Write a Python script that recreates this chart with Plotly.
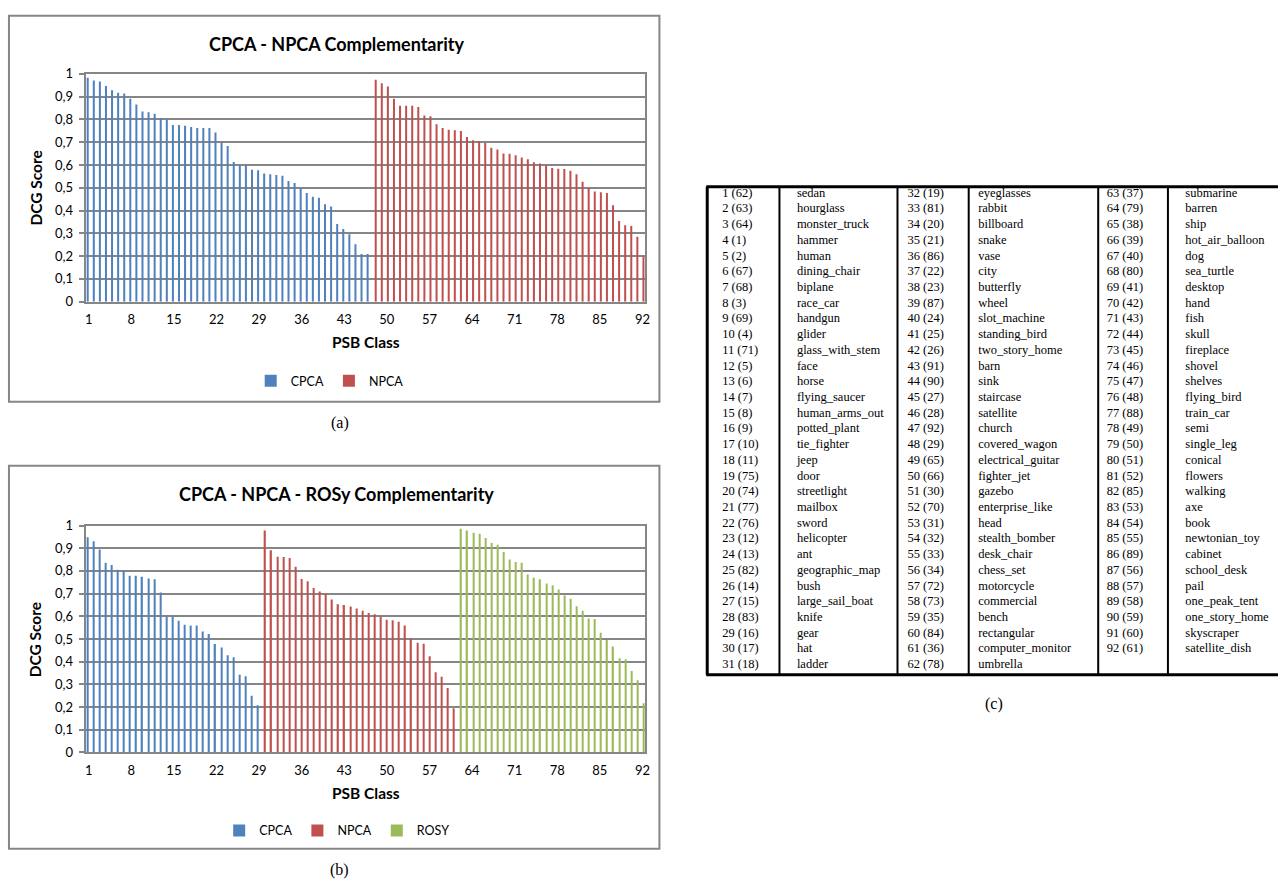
import plotly.graph_objects as go

W, H = 1282, 893

# ---- panel (a): DCG score per PSB class, sorted within each descriptor ----
cpca_a = [0.983, 0.971, 0.966, 0.947, 0.928, 0.917, 0.913, 0.891, 0.865, 0.835,
          0.831, 0.825, 0.805, 0.799, 0.775, 0.775, 0.772, 0.766, 0.762, 0.762,
          0.762, 0.742, 0.699, 0.683, 0.613, 0.599, 0.599, 0.579, 0.577, 0.562,
          0.559, 0.556, 0.552, 0.530, 0.521, 0.499, 0.477, 0.460, 0.456, 0.427,
          0.418, 0.341, 0.319, 0.296, 0.252, 0.209, 0.209]
npca_a = [0.974, 0.958, 0.944, 0.890, 0.860, 0.860, 0.860, 0.854, 0.817, 0.814,
          0.779, 0.762, 0.754, 0.752, 0.749, 0.723, 0.708, 0.705, 0.696, 0.675,
          0.668, 0.650, 0.649, 0.642, 0.633, 0.625, 0.612, 0.606, 0.599, 0.587,
          0.583, 0.582, 0.575, 0.559, 0.526, 0.499, 0.483, 0.480, 0.477, 0.423,
          0.354, 0.335, 0.332, 0.285, 0.198]

# ---- panel (b) ----
cpca_b = [0.949, 0.931, 0.894, 0.836, 0.826, 0.805, 0.802, 0.779, 0.779, 0.774,
          0.767, 0.763, 0.705, 0.598, 0.598, 0.580, 0.563, 0.560, 0.559, 0.533,
          0.522, 0.478, 0.462, 0.428, 0.420, 0.342, 0.336, 0.250, 0.208]
npca_b = [0.978, 0.891, 0.863, 0.861, 0.857, 0.818, 0.764, 0.754, 0.725, 0.709,
          0.699, 0.674, 0.653, 0.650, 0.643, 0.634, 0.625, 0.615, 0.609, 0.599,
          0.585, 0.583, 0.576, 0.559, 0.501, 0.483, 0.479, 0.424, 0.353, 0.334,
          0.284, 0.195]
rosy_b = [0.986, 0.978, 0.968, 0.964, 0.945, 0.923, 0.915, 0.883, 0.850, 0.839,
          0.836, 0.784, 0.770, 0.763, 0.745, 0.737, 0.718, 0.692, 0.677, 0.644,
          0.624, 0.590, 0.588, 0.528, 0.496, 0.467, 0.415, 0.411, 0.359, 0.318,
          0.217]

x_ticks = [1, 8, 15, 22, 29, 36, 43, 50, 57, 64, 71, 78, 85, 92]
y_ticks = [0, 0.1, 0.2, 0.3, 0.4, 0.5, 0.6, 0.7, 0.8, 0.9, 1]
y_tick_labels = ["0", "0,1", "0,2", "0,3", "0,4", "0,5", "0,6", "0,7", "0,8", "0,9", "1"]

# ---- panel (c): class order and original PSB ids ----
psb_ids = [62, 63, 64, 1, 2, 67, 68, 3, 69, 4, 71, 5, 6, 7, 8, 9, 10, 11, 75, 74,
           77, 76, 12, 13, 82, 14, 15, 83, 16, 17, 18,
           19, 81, 20, 21, 86, 22, 23, 87, 24, 25, 26, 91, 90, 27, 28, 92, 29, 65,
           66, 30, 70, 31, 32, 33, 34, 72, 73, 35, 84, 36, 78,
           37, 79, 38, 39, 40, 80, 41, 42, 43, 44, 45, 46, 47, 48, 88, 49, 50, 51,
           52, 85, 53, 54, 55, 89, 56, 57, 58, 59, 60, 61]
class_names = [
    "sedan", "hourglass", "monster_truck", "hammer", "human", "dining_chair",
    "biplane", "race_car", "handgun", "glider", "glass_with_stem", "face", "horse",
    "flying_saucer", "human_arms_out", "potted_plant", "tie_fighter", "jeep", "door",
    "streetlight", "mailbox", "sword", "helicopter", "ant", "geographic_map", "bush",
    "large_sail_boat", "knife", "gear", "hat", "ladder",
    "eyeglasses", "rabbit", "billboard", "snake", "vase", "city", "butterfly", "wheel",
    "slot_machine", "standing_bird", "two_story_home", "barn", "sink", "staircase",
    "satellite", "church", "covered_wagon", "electrical_guitar", "fighter_jet",
    "gazebo", "enterprise_like", "head", "stealth_bomber", "desk_chair", "chess_set",
    "motorcycle", "commercial", "bench", "rectangular", "computer_monitor", "umbrella",
    "submarine", "barren", "ship", "hot_air_balloon", "dog", "sea_turtle", "desktop",
    "hand", "fish", "skull", "fireplace", "shovel", "shelves", "flying_bird",
    "train_car", "semi", "single_leg", "conical", "flowers", "walking", "axe", "book",
    "newtonian_toy", "cabinet", "school_desk", "pail", "one_peak_tent",
    "one_story_home", "skyscraper", "satellite_dish"]

BLUE, RED, GREEN = "#4F81BD", "#C0504D", "#9BBB59"
GRID = "#868686"
SANS = "Lato"
SERIF = "Liberation Serif"


def px(x):
    return x / W


def py(y):
    return 1 - y / H


def classes(start, n):
    return list(range(start, start + n))


fig = go.Figure()

# panel (a) bars: two-series cluster, each series takes one slot
slot_a = 0.33
fig.add_trace(go.Bar(x=classes(1, len(cpca_a)), y=cpca_a, name="CPCA",
                     marker=dict(color=BLUE, line=dict(width=0)),
                     width=slot_a, offset=-slot_a, xaxis="x", yaxis="y",
                     legend="legend", hoverinfo="skip"))
fig.add_trace(go.Bar(x=classes(len(cpca_a) + 1, len(npca_a)), y=npca_a, name="NPCA",
                     marker=dict(color=RED, line=dict(width=0)),
                     width=slot_a, offset=0, xaxis="x", yaxis="y",
                     legend="legend", hoverinfo="skip"))

# panel (b) bars: three-series cluster
slot_b = 0.205
n1, n2 = len(cpca_b), len(npca_b)
fig.add_trace(go.Bar(x=classes(1, n1), y=cpca_b, name="CPCA",
                     marker=dict(color=BLUE, line=dict(width=0)),
                     width=slot_b, offset=-1.5 * slot_b, xaxis="x2", yaxis="y2",
                     legend="legend2", hoverinfo="skip"))
fig.add_trace(go.Bar(x=classes(n1 + 1, n2), y=npca_b, name="NPCA",
                     marker=dict(color=RED, line=dict(width=0)),
                     width=slot_b, offset=-0.5 * slot_b, xaxis="x2", yaxis="y2",
                     legend="legend2", hoverinfo="skip"))
fig.add_trace(go.Bar(x=classes(n1 + n2 + 1, len(rosy_b)), y=rosy_b, name="ROSY",
                     marker=dict(color=GREEN, line=dict(width=0)),
                     width=slot_b, offset=0.5 * slot_b, xaxis="x2", yaxis="y2",
                     legend="legend2", hoverinfo="skip"))

# panel (c): class table as text columns on a row-indexed axis
rows_per_col = 31
idx_col_x = [724, 910, 1110]
name_col_x = [799, 981, 1189]
for g in range(3):
    ids = list(range(g * rows_per_col, min((g + 1) * rows_per_col, len(class_names))))
    rows = [i - g * rows_per_col + 1 for i in ids]
    fig.add_trace(go.Scatter(
        x=[idx_col_x[g]] * len(ids), y=rows, mode="text",
        text=[f"{i + 1} ({psb_ids[i]})" for i in ids], textposition="middle right",
        textfont=dict(family=SERIF, size=12.5, color="black"),
        xaxis="x3", yaxis="y3", showlegend=False, hoverinfo="skip"))
    fig.add_trace(go.Scatter(
        x=[name_col_x[g]] * len(ids), y=rows, mode="text",
        text=[class_names[i] for i in ids], textposition="middle right",
        textfont=dict(family=SERIF, size=12.5, color="black"),
        xaxis="x3", yaxis="y3", showlegend=False, hoverinfo="skip"))

tick_font = dict(family=SANS, size=13, color="black")


def cat_axis(domain, anchor):
    return dict(domain=domain, anchor=anchor, range=[0.5, 92.5],
                tickmode="array", tickvals=x_ticks, ticktext=[str(t) for t in x_ticks],
                tickfont=tick_font, showgrid=False, zeroline=False,
                showline=True, linecolor=GRID, linewidth=2, mirror=True,
                ticks="", ticklabelstandoff=5, fixedrange=True)


def val_axis(domain, anchor):
    return dict(domain=domain, anchor=anchor, range=[0, 1],
                tickmode="array", tickvals=y_ticks, ticktext=y_tick_labels,
                tickfont=tick_font, showgrid=True, gridcolor=GRID, gridwidth=2,
                zeroline=False, showline=True, linecolor=GRID, linewidth=2,
                mirror=True, ticks="outside", ticklen=5, tickcolor=GRID,
                tickwidth=2, ticklabelstandoff=3, fixedrange=True)


table_left, table_top, row_h = 700, 181, 16

shapes = []
# chart frames
for top, bottom in [(8, 401), (466, 856)]:
    shapes.append(dict(type="rect", xref="paper", yref="paper",
                       x0=px(8), x1=px(661), y0=py(bottom), y1=py(top),
                       line=dict(color=GRID, width=2), fillcolor="rgba(0,0,0,0)"))
# table rules
t0, t1 = 182, 679
for x, w in [(709, 3), (781.5, 2), (900, 2), (971.5, 2), (1101.5, 2), (1171.5, 2)]:
    shapes.append(dict(type="line", xref="paper", yref="paper",
                       x0=px(x), x1=px(x), y0=py(t0), y1=py(t1),
                       line=dict(color="black", width=w)))
for y in (t0, t1):
    shapes.append(dict(type="line", xref="paper", yref="paper",
                       x0=px(708), x1=1, y0=py(y), y1=py(y),
                       line=dict(color="black", width=3)))


def note(text, x, y, font, angle=0):
    return dict(text=text, x=px(x), y=py(y), xref="paper", yref="paper",
                xanchor="center", yanchor="middle", showarrow=False,
                font=font, textangle=angle)


title_font = dict(family=SANS, size=18, color="black", weight="bold")
axis_font = dict(family=SANS, size=15.5, color="black", weight="bold")
cap_font = dict(family=SERIF, size=16, color="black")

annotations = [
    note("CPCA - NPCA Complementarity", 337, 37, title_font),
    note("DCG Score", 35, 183, axis_font, -90),
    note("PSB Class", 366, 340, axis_font),
    note("(a)", 340, 423, cap_font),
    note("CPCA - NPCA - ROSy Complementarity", 337, 495, title_font),
    note("DCG Score", 35, 643, axis_font, -90),
    note("PSB Class", 366, 799, axis_font),
    note("(b)", 340, 878, cap_font),
    note("(c)", 997, 709, cap_font),
]

legend_common = dict(orientation="h", xanchor="center", yanchor="middle",
                     font=dict(family=SANS, size=12.5, color="black"),
                     bgcolor="rgba(0,0,0,0)", itemwidth=30, traceorder="normal",
                     itemclick=False, itemdoubleclick=False)

fig.update_layout(
    width=W, height=H, margin=dict(l=0, r=0, t=0, b=0),
    paper_bgcolor="white", plot_bgcolor="rgba(0,0,0,0)",
    barmode="overlay", showlegend=True,
    xaxis=cat_axis([px(85), px(647)], "y"),
    yaxis=val_axis([py(299), py(67)], "x"),
    xaxis2=cat_axis([px(85), px(647)], "y2"),
    yaxis2=val_axis([py(758), py(527)], "x2"),
    xaxis3=dict(domain=[px(table_left), 1], anchor="y3", range=[table_left, W],
                visible=False, fixedrange=True),
    yaxis3=dict(domain=[py(table_top + rows_per_col * row_h), py(table_top)],
                anchor="x3", range=[rows_per_col + 0.5, 0.5], visible=False,
                fixedrange=True),
    legend=dict(x=px(330), y=py(380), **legend_common),
    legend2=dict(x=px(337), y=py(838), **legend_common),
    shapes=shapes, annotations=annotations,
)

fig.write_html("out.html")
